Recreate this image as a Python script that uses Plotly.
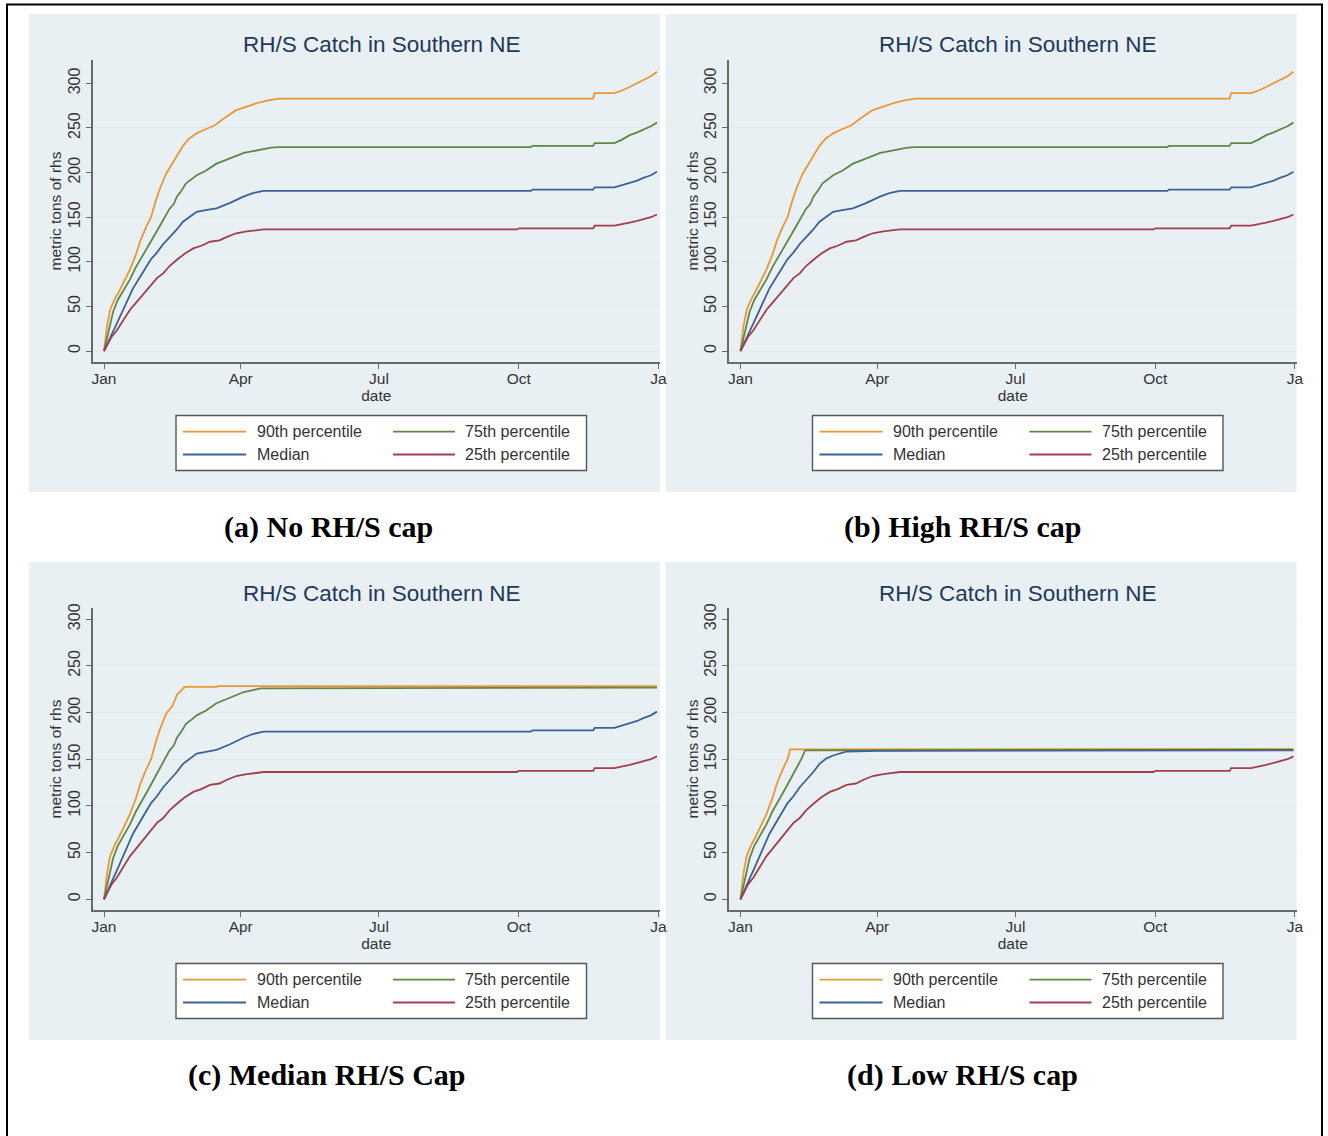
import plotly.graph_objects as go

W, H = 1328, 1136

# ---------------- data (day of year, metric tons) ----------------
MONTH_TICKS = [0, 90, 181, 273, 365]
MONTH_LABELS = ["Jan", "Apr", "Jul", "Oct", "Ja"]
Y_TICKS = [0, 50, 100, 150, 200, 250, 300]
SERIES_NAMES = ["90th percentile", "75th percentile", "Median", "25th percentile"]
PANEL_TITLE = "RH/S Catch in Southern NE"
CAPTIONS = ["(a) No RH/S cap", "(b) High RH/S cap", "(c) Median RH/S Cap", "(d) Low RH/S cap"]

# (a) No cap  (panel (b) shows the same curves)
P90_A_DAY = [0, 2, 4, 7, 10, 14, 17, 21, 24, 28, 31, 34, 37, 41, 45, 48, 52, 56, 61, 66, 73, 80, 87, 94, 101, 108, 115, 322, 323, 336, 341, 346, 351, 355, 360, 364]
P90_A_VAL = [0, 28, 46, 58, 67, 80, 91, 108, 124, 140, 150, 168, 183, 199, 210, 218, 230, 238, 244, 248, 253, 262, 270, 274, 278, 281, 283, 283, 289, 289, 292, 296, 300, 304, 308, 313]
P75_A_DAY = [0, 3, 6, 9, 13, 17, 21, 26, 30, 34, 37, 40, 43, 46, 48, 51, 54, 58, 61, 67, 74, 80, 86, 92, 98, 104, 110, 115, 281, 282, 322, 323, 336, 341, 346, 351, 355, 360, 364]
P75_A_VAL = [0, 22, 44, 57, 68, 80, 94, 108, 120, 132, 141, 150, 159, 165, 173, 180, 188, 193, 197, 202, 210, 214, 218, 222, 224, 226, 228, 228.5, 228.5, 230, 230, 233, 233, 237, 242, 245, 248, 252, 256]
P50_A_DAY = [0, 3, 6, 8.5, 12, 15, 19, 23.7, 28, 31, 34.7, 39, 43.4, 47.8, 52, 56.6, 61, 67, 74, 83, 91.7, 98, 105, 281, 282, 322, 323, 336, 341, 346, 351, 355, 360, 364]
P50_A_VAL = [0, 12, 22, 31, 44, 57, 70, 83, 95, 103, 110, 120, 128, 136, 145, 151, 156, 158, 160, 166, 173, 177, 179.5, 179.5, 181, 181, 183.5, 183.5, 186, 188, 191, 194, 197, 201]
P25_A_DAY = [0, 3, 5, 8.4, 12, 17, 21, 25, 28, 32, 35, 39, 43, 47.8, 53, 58.8, 64, 69.8, 76, 81, 87, 94, 100, 105, 272, 273, 322, 323, 336, 341, 346, 351, 355, 360, 364]
P25_A_VAL = [0, 10, 16, 23, 33, 46, 54, 62, 68, 76, 82, 87, 95, 102, 109, 115, 118, 122.5, 124, 128, 132, 134, 135.5, 136.3, 136.3, 137.5, 137.5, 140.5, 140.5, 142, 144, 146, 148, 150, 153]

# (c) Median cap
P90_C_DAY = [0, 2, 4, 7, 10, 14, 17, 21, 24, 28, 31, 34, 37, 41, 45, 48, 53, 74, 75, 364]
P90_C_VAL = [0, 28, 46, 58, 67, 80, 91, 108, 124, 140, 150, 168, 183, 199, 207, 219, 227.5, 227.5, 228.3, 228.3]
P75_C_DAY = [0, 3, 6, 9, 13, 17, 21, 26, 30, 34, 37, 40, 43, 46, 48, 51, 54, 58, 61, 67, 74, 80, 86, 92, 98, 103, 364]
P75_C_VAL = [0, 22, 44, 57, 68, 80, 94, 108, 120, 132, 141, 150, 159, 165, 173, 180, 188, 193, 197, 202, 210, 214, 218, 222, 224, 226, 226.8]

# (d) Low cap
P90_D_DAY = [0, 2, 4, 7, 10, 14, 17, 21, 24, 28, 31, 32.7, 364]
P90_D_VAL = [0, 28, 46, 58, 67, 80, 91, 108, 124, 140, 150, 160.5, 161]
P75_D_DAY = [0, 3, 6, 9, 13, 17, 21, 26, 30, 34, 37, 40, 42.5, 364]
P75_D_VAL = [0, 22, 44, 57, 68, 80, 94, 108, 120, 132, 141, 150, 159.5, 160]
P50_D_DAY = [0, 3, 6, 8.5, 12, 15, 19, 23.7, 28, 31, 34.7, 39, 43.4, 47.8, 52, 56.6, 61, 70, 90, 364]
P50_D_VAL = [0, 12, 22, 31, 44, 57, 70, 83, 95, 103, 110, 120, 128, 136, 145, 151, 154, 158.3, 159, 159.5]

PANELS = [
    [(P90_A_DAY, P90_A_VAL), (P75_A_DAY, P75_A_VAL), (P50_A_DAY, P50_A_VAL), (P25_A_DAY, P25_A_VAL)],
    [(P90_A_DAY, P90_A_VAL), (P75_A_DAY, P75_A_VAL), (P50_A_DAY, P50_A_VAL), (P25_A_DAY, P25_A_VAL)],
    [(P90_C_DAY, P90_C_VAL), (P75_C_DAY, P75_C_VAL), (P50_A_DAY, P50_A_VAL), (P25_A_DAY, P25_A_VAL)],
    [(P90_D_DAY, P90_D_VAL), (P75_D_DAY, P75_D_VAL), (P50_D_DAY, P50_D_VAL), (P25_A_DAY, P25_A_VAL)],
]
Y_RANGES = [[-12.3, 326.2], [-12.3, 326.2], [-11.5, 312], [-11.5, 312]]
X_RANGE = [-7.44, 366.0]

# ---------------- styling ----------------
COLORS = ["#EC9634", "#5E8748", "#3A6293", "#A13F4B"]
PANEL_BG = "#E9F0F3"
GRID = "#E2EAEE"
AXIS = "#6A6A6A"
TEXT = "#333333"
TITLE_C = "#22385A"
SANS = "Liberation Sans, Arial, sans-serif"
SERIF = "Liberation Serif, Times New Roman, serif"

OFFS = [(0, 0), (636.5, 0), (0, 548), (636.5, 548)]


def fx(p):
    return p / W


def fy(p):
    return 1 - p / H


fig = go.Figure()
shapes = []
annotations = []
layout = {}

for i, (dx, dy) in enumerate(OFFS):
    n = i + 1
    xa = "x" if n == 1 else f"x{n}"
    ya = "y" if n == 1 else f"y{n}"
    for k, (days, vals) in enumerate(PANELS[i]):
        fig.add_trace(go.Scatter(x=days, y=vals, mode="lines", name=SERIES_NAMES[k],
                                 line=dict(color=COLORS[k], width=1.8),
                                 xaxis=xa, yaxis=ya, showlegend=False))
    # panel background
    shapes.append(dict(type="rect", xref="paper", yref="paper", layer="below",
                       x0=fx(29 + dx), x1=fx(660 + dx), y0=fy(492 + dy), y1=fy(14 + dy),
                       fillcolor=PANEL_BG, line=dict(width=0)))
    layout["xaxis" if n == 1 else f"xaxis{n}"] = dict(
        domain=[fx(92.7 + dx), fx(660 + dx)], range=X_RANGE, anchor=ya,
        tickmode="array", tickvals=MONTH_TICKS, ticktext=MONTH_LABELS,
        ticks="outside", ticklen=5, tickwidth=1.3, tickcolor=AXIS,
        showline=True, linecolor=AXIS, linewidth=1.6, showgrid=False, zeroline=False,
        ticklabelstandoff=-3,
        tickfont=dict(family=SANS, size=15.5, color=TEXT),
        title=dict(text="date", font=dict(family=SANS, size=15.5, color=TEXT), standoff=0),
    )
    layout["yaxis" if n == 1 else f"yaxis{n}"] = dict(
        domain=[fy(362 + dy), fy(60 + dy)], range=Y_RANGES[i], anchor=xa,
        tickmode="array", tickvals=Y_TICKS, tickangle=-90,
        ticks="outside", ticklen=5, tickwidth=1.3, tickcolor=AXIS,
        showline=True, linecolor=AXIS, linewidth=1.6,
        showgrid=True, gridcolor=GRID, gridwidth=1.2, zeroline=False,
        tickfont=dict(family=SANS, size=16, color=TEXT),
        title=dict(text="metric tons of rhs", font=dict(family=SANS, size=15.5, color=TEXT), standoff=0),
    )
    # panel title
    annotations.append(dict(text=PANEL_TITLE, xref="paper", yref="paper", x=fx(381.5 + dx), y=fy(45 + dy),
                            xanchor="center", yanchor="middle", showarrow=False,
                            font=dict(family=SANS, size=22.5, color=TITLE_C)))
    # legend box
    shapes.append(dict(type="rect", xref="paper", yref="paper",
                       x0=fx(176 + dx), x1=fx(586.5 + dx), y0=fy(470.5 + dy), y1=fy(415.5 + dy),
                       fillcolor="white", line=dict(color="#555555", width=1.4)))
    leg_pos = [(183, 246, 254.5, 431.7), (393, 455, 463, 431.7), (183, 246, 254.5, 454.5), (393, 455, 463, 454.5)]
    for slot, k in enumerate([0, 1, 2, 3]):
        lx0, lx1, tx, ty = leg_pos[slot]
        shapes.append(dict(type="line", xref="paper", yref="paper",
                           x0=fx(lx0 + dx), x1=fx(lx1 + dx), y0=fy(ty + dy), y1=fy(ty + dy),
                           line=dict(color=COLORS[k], width=1.8)))
        annotations.append(dict(text=SERIES_NAMES[k], xref="paper", yref="paper",
                                x=fx(tx + dx), y=fy(ty + dy), xanchor="left", yanchor="middle",
                                showarrow=False, font=dict(family=SANS, size=16, color=TEXT)))
    # caption
    annotations.append(dict(text="<b>" + CAPTIONS[i] + "</b>", xref="paper", yref="paper",
                            x=fx((328 if dx == 0 else 963) + (0 if dy == 0 else -1)), y=fy(527 + dy),
                            xanchor="center", yanchor="middle", showarrow=False,
                            font=dict(family=SERIF, size=30, color="#000000")))

# outer frame
shapes.append(dict(type="rect", xref="paper", yref="paper",
                   x0=fx(7), x1=fx(1322), y0=fy(1150), y1=fy(4.5),
                   line=dict(color="black", width=2), fillcolor="rgba(0,0,0,0)"))

fig.update_layout(
    width=W, height=H, margin=dict(l=0, r=0, t=0, b=0, autoexpand=False),
    paper_bgcolor="white", plot_bgcolor="white",
    shapes=shapes, annotations=annotations, showlegend=False,
    font=dict(family=SANS, color=TEXT),
    **layout,
)

fig.write_html("out.html", config={"displayModeBar": False},
               post_script="document.body.style.margin='0';document.body.style.overflow='hidden';")
